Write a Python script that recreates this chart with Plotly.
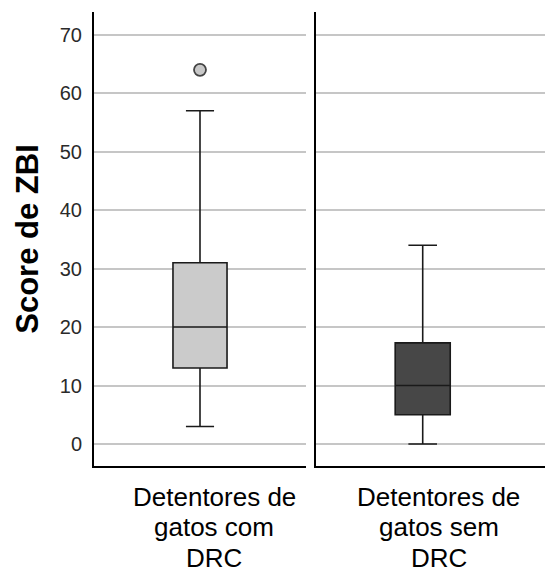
import plotly.graph_objects as go
from plotly.subplots import make_subplots

# ---- data ----
categories = ["Detentores de<br>gatos com<br>DRC", "Detentores de<br>gatos sem<br>DRC"]
q1 = [13, 5]
median = [20, 10]
q3 = [31, 17.3]
lower = [3, 0]
upper = [57, 34]
outliers = [[64], []]
y_ticks = [0, 10, 20, 30, 40, 50, 60, 70]
y_title = "Score de ZBI"

fills = ["#cbcbcb", "#474747"]

W, H = 545, 575
ml, mr, mt, mb = 94, 0, 12, 109
pw = W - ml - mr
left_end = (306 - ml) / pw
right_start = (316 - ml) / pw

fig = make_subplots(rows=1, cols=2, shared_yaxes=True, horizontal_spacing=0,
                    column_widths=[0.5, 0.5])

xranges = [[-0.5, 0.5], [-0.5, 0.573]]
box_w = [0.255, 0.258]

for i in range(2):
    fig.add_trace(go.Box(
        x=[0], q1=[q1[i]], median=[median[i]], q3=[q3[i]],
        lowerfence=[lower[i]], upperfence=[upper[i]],
        width=box_w[i], whiskerwidth=0.52,
        fillcolor=fills[i],
        line=dict(color="#1a1a1a", width=1.6),
        boxpoints=False, showlegend=False, hoverinfo="skip",
    ), row=1, col=i + 1)
    if outliers[i]:
        fig.add_trace(go.Scatter(
            x=[0] * len(outliers[i]), y=outliers[i], mode="markers",
            marker=dict(size=12, color="#c8c8c8", line=dict(color="#444444", width=1.8)),
            showlegend=False, hoverinfo="skip",
        ), row=1, col=i + 1)

font_family = "Liberation Sans, Arial, sans-serif"

for i, (ax, dom) in enumerate([("xaxis", [0, left_end]), ("xaxis2", [right_start, 1])]):
    fig.layout[ax].update(
        domain=dom, range=xranges[i], showticklabels=False,
        showline=True, linecolor="black", linewidth=2, showgrid=False,
        zeroline=False, ticks="",
    )

# category labels, line by line, under each panel
line_shifts = [-30.5, -61, -91.5]
xshifts = [14, 16]
for i, cat in enumerate(categories):
    for j, txt in enumerate(cat.split("<br>")):
        fig.add_annotation(
            x=0, xref="x" if i == 0 else "x2", y=0, yref="paper",
            text=txt, showarrow=False, xanchor="center", yanchor="middle",
            xshift=xshifts[i], yshift=line_shifts[j],
            font=dict(family=font_family, size=26, color="#000000"),
        )

yr = [-3.77, 73.9]
fig.update_layout(
    yaxis=dict(range=yr, tickvals=y_ticks, showline=True, linecolor="black", linewidth=2,
               showgrid=True, gridcolor="#c6c6c6", gridwidth=2, zeroline=False,
               ticks="", ticklabelstandoff=6,
               tickfont=dict(family=font_family, size=20, color="#2a2a2a"),
               title=dict(text="<b>" + y_title + "</b>", standoff=12,
                          font=dict(family=font_family, size=31, color="#000000"))),
    yaxis2=dict(range=yr, tickvals=y_ticks, showline=True, linecolor="black", linewidth=2,
                showgrid=True, gridcolor="#c6c6c6", gridwidth=2, zeroline=False,
                showticklabels=False, ticks=""),
    width=W, height=H,
    margin=dict(l=ml, r=mr, t=mt, b=mb),
    plot_bgcolor="white", paper_bgcolor="white",
)

fig.write_html("out.html")
